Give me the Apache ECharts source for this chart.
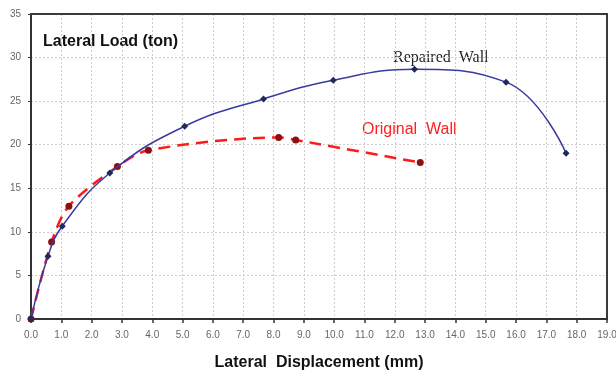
<!DOCTYPE html>
<html>
<head>
<meta charset="utf-8">
<script src="https://cdn.jsdelivr.net/npm/echarts@6/dist/echarts.min.js"></script>
<style>
  html, body { margin: 0; padding: 0; background: #fff; }
  #chart { width: 616px; height: 372px; }
</style>
</head>
<body>
<div id="chart"></div>
<script>
// Load–displacement test results for the two walls
const repairedDisp = [0, 0.56, 1.03, 2.6, 5.07, 7.67, 9.97, 12.65, 15.67, 17.65];
const repairedLoad = [0, 7.2, 10.65, 16.75, 22.12, 25.25, 27.4, 28.65, 27.18, 19.02];

const originalDisp = [0, 0.68, 1.25, 2.85, 3.87, 8.17, 8.73, 12.84];
const originalLoad = [0, 8.83, 12.95, 17.5, 19.37, 20.83, 20.55, 17.95];

const xMin = 0, xMax = 19, xStep = 1;
const yMin = 0, yMax = 35, yStep = 5;

const pairs = (xs, ys) => xs.map((x, i) => [x, ys[i]]);

const gridLine = { show: true, lineStyle: { color: '#cdcdcd', type: [2, 2], width: 1 } };
const tickFont = { color: '#666', fontSize: 10, fontFamily: 'Liberation Sans, Arial' };

// frame edges on the top and right of the plot
const frameX = { type: 'value', position: 'top', min: xMin, max: xMax, interval: xStep,
  axisLine: { show: true, onZero: false, lineStyle: { color: '#3a3a3a', width: 2 } },
  axisTick: { show: false }, axisLabel: { show: false }, splitLine: { show: false } };
const frameY = { type: 'value', position: 'right', min: yMin, max: yMax, interval: yStep,
  axisLine: { show: true, onZero: false, lineStyle: { color: '#3a3a3a', width: 2 } },
  axisTick: { show: false }, axisLabel: { show: false }, splitLine: { show: false } };

const chart = echarts.init(document.getElementById('chart'));
chart.setOption({
  backgroundColor: '#ffffff',
  animation: false,
  grid: { left: 31, right: 9, top: 14, bottom: 53, outerBoundsMode: 'none', containLabel: false },
  xAxis: [{
    type: 'value', min: xMin, max: xMax, interval: xStep,
    name: 'Lateral  Displacement (mm)',
    nameLocation: 'middle', nameGap: 36,
    nameTextStyle: { fontFamily: 'Liberation Sans, Arial', fontWeight: 'bold', fontSize: 16, color: '#111' },
    axisLine: { onZero: false, lineStyle: { color: '#333', width: 2 } },
    axisTick: { inside: false, length: 4, lineStyle: { color: '#333', width: 1.5 } },
    axisLabel: Object.assign({ margin: 11, formatter: v => v.toFixed(1) }, tickFont),
    splitLine: gridLine
  }, frameX],
  yAxis: [{
    type: 'value', min: yMin, max: yMax, interval: yStep,
    axisLine: { show: true, onZero: false, lineStyle: { color: '#333', width: 2 } },
    axisTick: { show: true, length: 3, lineStyle: { color: '#333' } },
    axisLabel: Object.assign({ margin: 10 }, tickFont),
    splitLine: gridLine
  }, frameY],
  series: [
    {
      name: 'Original Wall',
      type: 'line',
      smooth: 0.3,
      data: pairs(originalDisp, originalLoad),
      symbol: 'circle', symbolSize: 7,
      itemStyle: { color: '#8b1010' },
      lineStyle: { color: '#ff1a1a', width: 2.5, type: [12, 7] },
      z: 3
    },
    {
      name: 'Repaired Wall',
      type: 'line',
      smooth: 0.45,
      data: pairs(repairedDisp, repairedLoad),
      symbol: 'diamond', symbolSize: 7,
      itemStyle: { color: '#1c2a5c' },
      lineStyle: { color: '#3a3aa0', width: 1.5 },
      z: 4
    }
  ],
  graphic: [
    {
      type: 'text', left: 43, top: 34,
      style: { text: 'Lateral Load (ton)', fontFamily: 'Liberation Sans, Arial', fontWeight: 'bold', fontSize: 16, fill: '#111' }
    },
    {
      type: 'text', left: 393, top: 50,
      style: { text: 'Repaired  Wall', fontFamily: 'Liberation Serif, Times New Roman', fontSize: 16, fill: '#222' }
    },
    {
      type: 'text', left: 362, top: 122,
      style: { text: 'Original  Wall', fontFamily: 'Liberation Sans, Arial', fontSize: 16, fill: '#ff2020' }
    }
  ]
});
</script>
</body>
</html>
